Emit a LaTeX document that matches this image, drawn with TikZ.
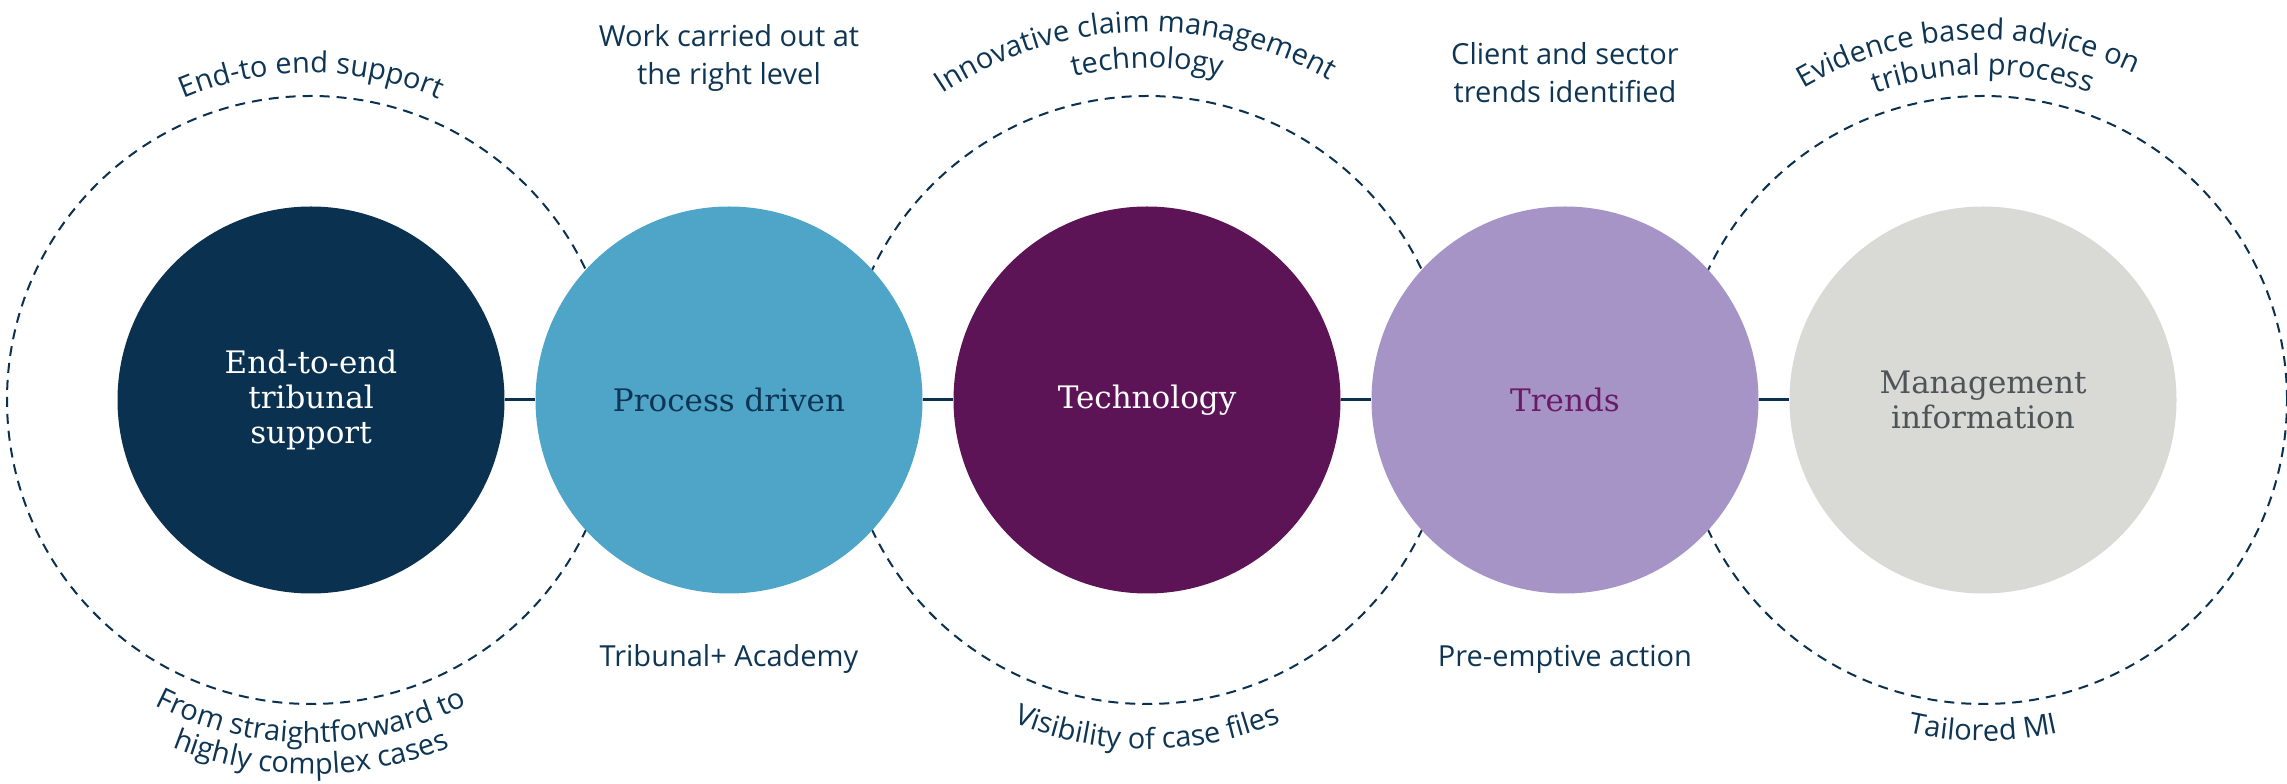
\documentclass[tikz,border=0pt]{standalone}
\usepackage{fontspec}
\setmainfont{Open Sans}
\newfontfamily\circfont{DejaVu Serif}
\usetikzlibrary{decorations.text}
\definecolor{navy}{HTML}{0B3150}
\definecolor{txtnavy}{HTML}{0E3553}
\definecolor{skyblue}{HTML}{4FA5C8}
\definecolor{plum}{HTML}{5C1456}
\definecolor{lavender}{HTML}{A694C6}
\definecolor{stone}{HTML}{D9DAD6}
\definecolor{plumtext}{HTML}{6A1B63}
\definecolor{slate}{HTML}{4F5458}
\newcommand{\arcfont}{\fontsize{29}{30}\selectfont\color{txtnavy}}
\tikzset{
  disc/.style={circle, minimum size=387pt, inner sep=0pt, align=center,
    font=\circfont\fontsize{31}{35}\selectfont},
  ring/.style={draw=navy, line width=2pt, dash pattern=on 10pt off 7pt},
  link/.style={draw=navy, line width=3pt},
  lbl/.style={align=center, text=txtnavy, font=\fontsize{29}{38}\selectfont},
  arctext/.style={decorate, decoration={text along path, text align=center, text={|\arcfont|#1}}},
}
\begin{document}
\begin{tikzpicture}[x=1pt,y=1pt]
\useasboundingbox (0,0) rectangle (2287,784);
\coordinate (c1) at (311,384);
\coordinate (c2) at (729,384);
\coordinate (c3) at (1147,384);
\coordinate (c4) at (1565,384);
\coordinate (c5) at (1983,384);
% dashed rings
\draw[ring] (c1) circle[radius=304];
\draw[ring] (c3) circle[radius=304];
\draw[ring] (c5) circle[radius=304];
% discs
\node[disc, fill=navy, text=white] (n1) at (c1) {End-to-end\\tribunal\\support};
\node[disc, fill=skyblue, text=txtnavy] (n2) at (c2) {Process driven};
\node[disc, fill=plum, text=white] (n3) at (c3) {Technology};
\node[disc, fill=lavender, text=plumtext] (n4) at (c4) {Trends};
\node[disc, fill=stone, text=slate] (n5) at (c5) {Management\\information};
% connectors
\draw[link] (n1) -- (n2);
\draw[link] (n2) -- (n3);
\draw[link] (n3) -- (n4);
\draw[link] (n4) -- (n5);
% curved labels
\path[arctext={End-to end support}] ([shift={(160:327)}]c1) arc[start angle=160, end angle=20, radius=327];
\path[arctext={From straightforward to}] ([shift={(200:343)}]c1) arc[start angle=200, end angle=340, radius=343];
\path[arctext={highly complex cases}] ([shift={(210:374)}]c1) arc[start angle=210, end angle=330, radius=374];
\path[arctext={Innovative claim management}] ([shift={(172:368)}]c3) arc[start angle=172, end angle=12, radius=368];
\path[arctext={technology}] ([shift={(150:332)}]c3) arc[start angle=150, end angle=30, radius=332];
\path[arctext={Visibility of case files}] ([shift={(210:349)}]c3) arc[start angle=210, end angle=330, radius=349];
\path[arctext={Evidence based advice on}] ([shift={(167.5:360)}]c5) arc[start angle=167.5, end angle=17.5, radius=360];
\path[arctext={tribunal process}] ([shift={(150:325)}]c5) arc[start angle=150, end angle=30, radius=325];
\path[arctext={Tailored MI}] ([shift={(230:341)}]c5) arc[start angle=230, end angle=310, radius=341];
% straight labels
\node[lbl] (t2) at (729,726) {Work carried out at\\the right level};
\node[lbl] (b2) at (729,125) {Tribunal+ Academy};
\node[lbl] (t4) at (1565,711) {Client and sector\\trends identified};
\node[lbl] (b4) at (1565,125) {Pre-emptive action};
\end{tikzpicture}
\end{document}
